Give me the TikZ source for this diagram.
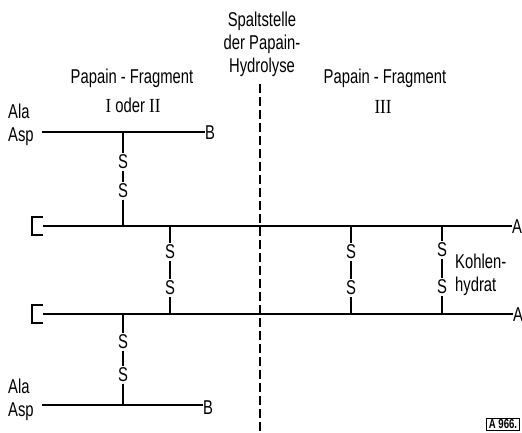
\documentclass[tikz,border=0pt]{standalone}
\usepackage{fontspec}
\setmainfont[FakeStretch=0.74]{Liberation Sans}
\newfontfamily\romfont[FakeStretch=0.85]{Liberation Serif}
\usetikzlibrary{calc}

\begin{document}
\begin{tikzpicture}[
            x=1pt, y=-1pt,
            font=\fontsize{20}{23}\selectfont,
            lbl/.style={inner sep=0pt, align=center},
            sulfur/.style={inner sep=1.5pt},
            chain/.style={line width=1.7pt},
            bridge/.style={line width=1.4pt},
            cut/.style={line width=2.2pt, dash pattern=on 9pt off 4pt},
            stamp/.style={draw, line width=0.8pt, inner xsep=2pt, inner ysep=1.5pt, font=\fontsize{13}{14}\selectfont\bfseries}
        ]
        \useasboundingbox (0,0) rectangle (522,432);

        % Beschriftungen
        \node (spalt) [lbl] at (262,44) {Spaltstelle\\der Papain-\\Hydrolyse};
        \node (frag1) [lbl] at (132,78) {Papain - Fragment};
        \node (num1) [lbl] at (133,105) {{\romfont I} oder {\romfont II}};
        \node (frag3) [lbl] at (385,78) {Papain - Fragment};
        \node (num3) [lbl] at (383,107) {\romfont III};
        \node (kh) [lbl, anchor=west, align=left] at (455,275) {Kohlen-\\hydrat};
        \node (ref) [stamp] at (503,424) {A 966.};

        % Spaltstelle
        \coordinate (cuttop) at (260,84);
        \coordinate (cutbot) at (260,432);
        \draw [cut] (cuttop) -- (cutbot);

        % Ketten
        \node (aa1) [lbl, anchor=west, align=left] at (8,125) {Ala\\Asp};
        \coordinate (l1) at (42,132);
        \node (b1) [lbl, anchor=west] at (205,133) {B};
        \draw [chain] (l1) -- (l1 -| b1.west);

        \coordinate (h1) at (43,226);
        \node (a1) [lbl, anchor=west] at (512,227) {A};
        \draw [chain] (43,217) -- (32,217) -- (32,235) -- (43,235);
        \draw [chain] (h1) -- (h1 -| a1.west);

        \coordinate (h2) at (43,314);
        \node (a2) [lbl, anchor=west] at (513,315) {A};
        \draw [chain] (43,305) -- (32,305) -- (32,323) -- (43,323);
        \draw [chain] (h2) -- (h2 -| a2.west);

        \node (aa2) [lbl, anchor=west, align=left] at (8,400) {Ala\\Asp};
        \coordinate (l2) at (42,405);
        \node (b2) [lbl, anchor=west] at (203,408) {B};
        \draw [chain] (l2) -- (l2 -| b2.west);

        % Disulfidbruecken
        \node (s1o) [sulfur] at (123,162) {S};
        \node (s1u) [sulfur] at (123,191) {S};
        \draw [bridge] (s1o |- l1) -- (s1o) -- (s1u) -- (s1u |- h1);

        \node (s2o) [sulfur] at (170,252) {S};
        \node (s2u) [sulfur] at (170,288) {S};
        \draw [bridge] (s2o |- h1) -- (s2o) -- (s2u) -- (s2u |- h2);

        \node (s3o) [sulfur] at (351,252) {S};
        \node (s3u) [sulfur] at (351,288) {S};
        \draw [bridge] (s3o |- h1) -- (s3o) -- (s3u) -- (s3u |- h2);

        \node (s4o) [sulfur] at (442,250) {S};
        \node (s4u) [sulfur] at (442,287) {S};
        \draw [bridge] (s4o |- h1) -- (s4o) -- (s4u) -- (s4u |- h2);

        \node (s5o) [sulfur] at (123,342) {S};
        \node (s5u) [sulfur] at (123,375) {S};
        \draw [bridge] (s5o |- h2) -- (s5o) -- (s5u) -- (s5u |- l2);

    \end{tikzpicture}
\end{document}
